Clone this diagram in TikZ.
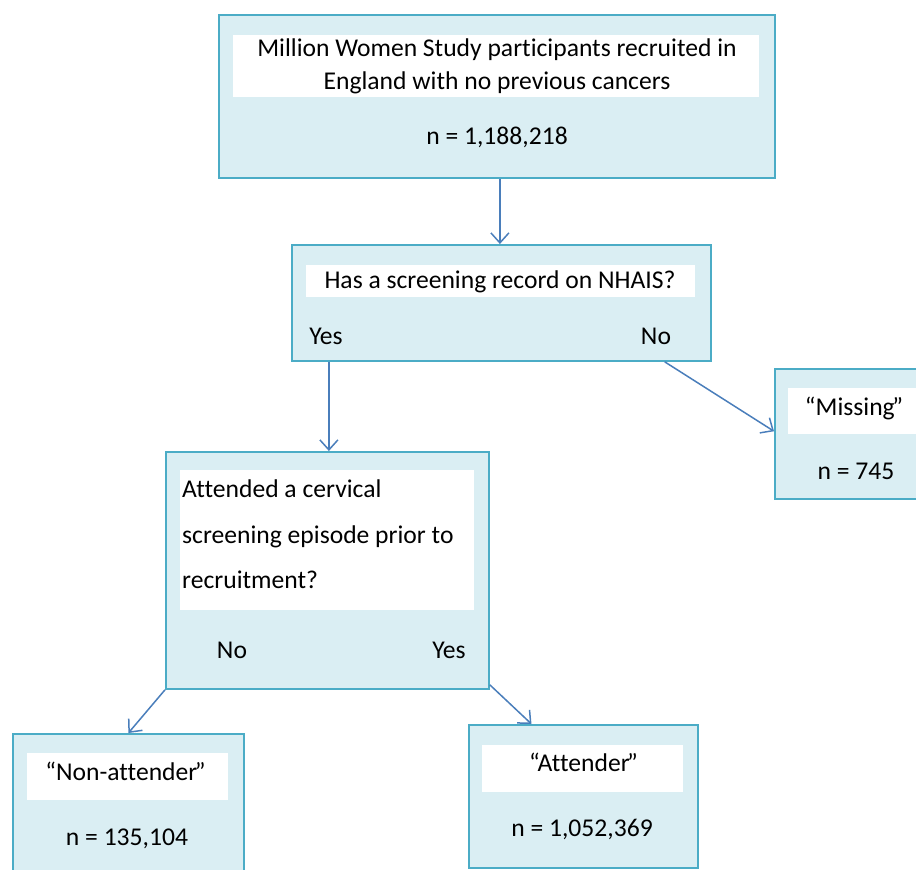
\documentclass[tikz,border=0pt]{standalone}
\usepackage{fontspec}
\setmainfont[Ligatures=NoCommon]{Carlito}
\usetikzlibrary{arrows.meta,calc}
\definecolor{boxfill}{RGB}{218,238,243}
\definecolor{boxline}{RGB}{75,172,198}
\definecolor{arrowc}{RGB}{74,126,187}
\newcommand\cq{\kern-2.5pt”}
\tikzset{
  outerbox/.style={draw=boxline, fill=boxfill, line width=1.8pt, anchor=north west, inner sep=0pt},
  whitebox/.style={fill=white, draw=none, anchor=north west, inner sep=0pt},
  lbl/.style={inner sep=0pt, font=\fontsize{25.6}{33}\selectfont, text=black},
  conn/.style={draw=arrowc, line width=1.5pt, -{Straight Barb[length=10pt,width=18pt,line width=1.5pt]}}
}
\begin{document}
\begin{tikzpicture}[x=1pt,y=-1pt]
\useasboundingbox (0,0) rectangle (916,870);
% top box
\node[outerbox, minimum width=556pt, minimum height=163pt] (top) at (218,14) {};
\node[whitebox, minimum width=526pt, minimum height=62pt] (topw) at (233,35) {};
\node[lbl, align=center] (toptxt) at (497,66) {Million Women Study participants recruited in\\England with no previous cancers};
\node[lbl] (topn) at (497,137) {n = 1,188,218};
% question box
\node[outerbox, minimum width=419pt, minimum height=116pt] (q) at (291,244) {};
\node[whitebox, minimum width=389pt, minimum height=32pt] (qw) at (306,265) {};
\node[lbl] (qtxt) at (500,282) {Has a screening record on NHAIS?};
\node[lbl] (qyes) at (326,336) {Yes};
\node[lbl] (qno) at (656,336) {No};
% missing box
\node[outerbox, minimum width=170pt, minimum height=130pt] (miss) at (774,368) {};
\node[whitebox, minimum width=140pt, minimum height=46pt] (missw) at (788,388) {};
\node[lbl] (misstxt) at (854,408) {“Missing\cq};
\node[lbl] (missn) at (856,471) {n = 745};
% attended box
\node[outerbox, minimum width=323pt, minimum height=237pt] (b3) at (165,451) {};
\node[whitebox, minimum width=294pt, minimum height=140pt] (b3w) at (180,470) {};
\node[lbl, anchor=west, align=left, font=\fontsize{25.6}{45.5}\selectfont] (b3txt) at (182,534.5) {Attended a cervical\\screening episode prior to\\recruitment?};
\node[lbl] (b3no) at (232,650) {No};
\node[lbl] (b3yes) at (449,650) {Yes};
% non-attender box
\node[outerbox, minimum width=231pt, minimum height=160pt] (non) at (12,733) {};
\node[whitebox, minimum width=201pt, minimum height=47pt] (nonw) at (27,753) {};
\node[lbl] (nontxt) at (125.5,771) {“Non-attender\cq};
\node[lbl] (nonn) at (127,839) {n = 135,104};
% attender box
\node[outerbox, minimum width=229pt, minimum height=143pt] (att) at (468,724) {};
\node[whitebox, minimum width=201pt, minimum height=47pt] (attw) at (482,745) {};
\node[lbl] (atttxt) at (583.5,762) {“Attender\cq};
\node[lbl] (attn) at (582,829) {n = 1,052,369};
% connectors
\coordinate (qarr) at ($(q.north)+(-1.5,0)$);
\coordinate (b3arr) at ($(b3.north)+(1.5,0)$);
\draw[conn] (qarr |- top.south) -- (qarr);
\draw[conn] (b3arr |- q.south) -- (b3arr);
\draw[conn] ($(q.south west)!0.888!(q.south east)$) -- ($(miss.north west)!0.48!(miss.south west)$);
\draw[conn] (b3.south west) -- (non.north);
\draw[conn] ($(b3.south east)+(0,-5)$) -- ($(att.north west)!0.275!(att.north east)$);
\end{tikzpicture}
\end{document}
